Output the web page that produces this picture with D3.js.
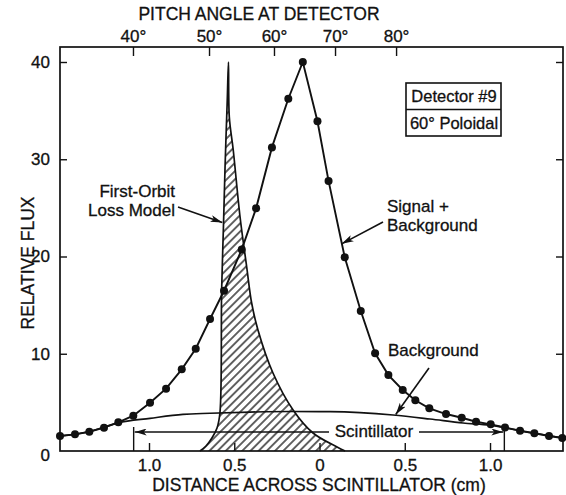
<!DOCTYPE html>
<html><head><meta charset="utf-8">
<script src="https://cdn.jsdelivr.net/npm/d3@7"></script>
<style>
body{margin:0;background:#fff;}
svg text{font-family:"Liberation Sans",Arial,Helvetica,sans-serif;fill:#111;stroke:#111;stroke-width:0.3px;}
</style></head><body>
<svg id="c" width="566" height="495"></svg>
<script>
// ---- data ----
const signalX = [-1.522,-1.434,-1.350,-1.264,-1.180,-1.092,-0.994,-0.900,-0.808,-0.726,-0.642,-0.560,-0.456,-0.372,-0.279,-0.183,-0.098,-0.012,0.053,0.148,0.242,0.326,0.404,0.488,0.562,0.644,0.742,0.834,0.918,1.004,1.088,1.176,1.260,1.346,1.424];
const signalY = [1.54,1.71,1.98,2.40,2.95,3.63,4.97,6.41,8.40,10.52,13.57,16.48,20.73,24.95,31.22,36.22,40.0,33.9,27.77,19.92,14.40,10.04,7.81,6.27,5.21,4.39,3.80,3.42,3.01,2.74,2.42,2.08,1.82,1.54,1.34];
const backgroundX = [-1.522,-1.352,-1.182,-0.994,-0.801,-0.642,-0.408,-0.173,0.062,0.431,0.648,0.842,1.000,1.176,1.428];
const backgroundY = [1.54,1.98,2.90,3.36,3.77,3.88,4.00,4.06,4.04,3.70,3.29,2.88,2.66,2.08,1.34];
const modelX = [-0.701,-0.666,-0.631,-0.601,-0.584,-0.574,-0.564,-0.554,-0.541,-0.534,-0.529,-0.506,-0.466,-0.427,-0.398,-0.361,-0.273,-0.155,-0.038,0.103,0.150];
const modelY = [0,0.51,1.34,2.37,3.91,16.56,22.72,29.2,36.09,40.0,34.34,30.95,24.06,18.92,15.22,12.44,8.02,4.22,1.85,0.41,0];
const distTicks = [-1,-0.5,0,0.5,1];
const fluxTicks = [0,10,20,30,40];
const pitchTickPos = [-1.094,-0.648,-0.267,0.091,0.449];
const pitchLabels = ["40°","50°","60°","70°","80°"];
const scintEdges = [-1.090,1.084];
const xDomain = [-1.522,1.428];
const yDomain = [0,40];

// ---- layout ----
const L=60,R=563,T=47,B=451;
const svg=d3.select("#c");
const x=d3.scaleLinear().domain(xDomain).range([L,R]);
const y=d3.scaleLinear().domain(yDomain).range([B,62]);
const ink="#111";

const defs=svg.append("defs");
defs.append("pattern").attr("id","hatch").attr("patternUnits","userSpaceOnUse")
  .attr("width",5.8).attr("height",6).attr("patternTransform","rotate(45)")
  .append("line").attr("x1",2.9).attr("y1",-1).attr("x2",2.9).attr("y2",7)
  .attr("stroke",ink).attr("stroke-width",1.3);
defs.append("marker").attr("id","arr").attr("viewBox","0 0 12 7").attr("refX",12).attr("refY",3.5)
  .attr("markerWidth",12).attr("markerHeight",7).attr("markerUnits","userSpaceOnUse").attr("orient","auto")
  .append("path").attr("d","M0,0 L12,3.5 L0,7 L3,3.5 Z").attr("fill",ink);

// model (hatched)
const modelPts=modelX.map((d,i)=>[d,modelY[i]]);
const mline=d3.line().x(d=>x(d[0])).y(d=>y(d[1])).curve(d3.curveCatmullRom.alpha(0.5));
svg.append("path").attr("d",mline(modelPts)+"Z").attr("fill","url(#hatch)").attr("stroke","none");
svg.append("path").attr("d",mline(modelPts)).attr("fill","none").attr("stroke",ink).attr("stroke-width",1.7);

// background
const bgPts=backgroundX.map((d,i)=>[d,backgroundY[i]]);
svg.append("path").attr("d",d3.line().x(d=>x(d[0])).y(d=>y(d[1])).curve(d3.curveMonotoneX)(bgPts))
  .attr("fill","none").attr("stroke",ink).attr("stroke-width",1.7);

// signal
const sigPts=signalX.map((d,i)=>[d,signalY[i]]);
svg.append("path").attr("d",d3.line().x(d=>x(d[0])).y(d=>y(d[1]))(sigPts))
  .attr("fill","none").attr("stroke",ink).attr("stroke-width",1.9);
svg.append("g").selectAll("circle").data(sigPts).join("circle")
  .attr("cx",d=>x(d[0])).attr("cy",d=>y(d[1])).attr("r",4).attr("fill",ink);

// frame
svg.append("rect").attr("x",L).attr("y",T).attr("width",R-L).attr("height",B-T)
  .attr("fill","none").attr("stroke",ink).attr("stroke-width",1.7);

// axes
const fs="17px";
const gB=svg.append("g").attr("transform",`translate(0,${B})`)
  .call(d3.axisBottom(x).tickValues(distTicks).tickSize(-8).tickPadding(8).tickFormat(d=>d===0?"0":Math.abs(d).toFixed(1)));
const gT=svg.append("g").attr("transform",`translate(0,${T})`)
  .call(d3.axisTop(x).tickValues(pitchTickPos).tickSize(-9).tickPadding(5).tickFormat((d,i)=>pitchLabels[i]));
const gL=svg.append("g").attr("transform",`translate(${L},0)`)
  .call(d3.axisLeft(y).tickValues(fluxTicks).tickSize(-7).tickPadding(10));
const gR=svg.append("g").attr("transform",`translate(${R},0)`)
  .call(d3.axisRight(y).tickValues(fluxTicks.slice(1)).tickSize(-7).tickFormat(""));
[gB,gT,gL,gR].forEach(g=>{
  g.select(".domain").remove();
  g.selectAll(".tick line").attr("stroke",ink).attr("stroke-width",1.4);
  g.selectAll("text").attr("font-size",fs).attr("fill",ink).style("font-family","'Liberation Sans',Arial,sans-serif");
});
gL.selectAll(".tick").filter(d=>d===0).select("line").remove();
gL.selectAll(".tick").filter(d=>d===0).select("text").attr("dy","0.55em");

// axis titles
const tfs="17.5px";
svg.append("text").attr("x",259).attr("y",20).attr("text-anchor","middle").attr("font-size",tfs).text("PITCH ANGLE AT DETECTOR");
svg.append("text").attr("x",319).attr("y",491).attr("text-anchor","middle").attr("font-size",tfs).text("DISTANCE ACROSS SCINTILLATOR (cm)");
svg.append("text").attr("transform","translate(34,263) rotate(-90)").attr("text-anchor","middle").attr("font-size",tfs).text("RELATIVE FLUX");

// detector box
svg.append("rect").attr("x",406).attr("y",83).attr("width",95).attr("height",53).attr("fill","#fff").attr("stroke",ink).attr("stroke-width",1.6);
svg.append("line").attr("x1",406).attr("x2",501).attr("y1",109.5).attr("y2",109.5).attr("stroke",ink).attr("stroke-width",1.6);
svg.append("text").attr("x",454).attr("y",102).attr("text-anchor","middle").attr("font-size","16.5px").text("Detector #9");
svg.append("text").attr("x",454).attr("y",129).attr("text-anchor","middle").attr("font-size","16.5px").text("60° Poloidal");

// annotations
function arrow(x1,y1,x2,y2){svg.append("line").attr("x1",x1).attr("y1",y1).attr("x2",x2).attr("y2",y2)
  .attr("stroke",ink).attr("stroke-width",1.6).attr("marker-end","url(#arr)");}
svg.append("text").attr("x",175).attr("y",197).attr("text-anchor","end").attr("font-size",fs).text("First-Orbit");
svg.append("text").attr("x",175).attr("y",216).attr("text-anchor","end").attr("font-size",fs).text("Loss Model");
arrow(178,207,x(-0.57),y(23.5));
svg.append("text").attr("x",387).attr("y",212).attr("font-size",fs).text("Signal +");
svg.append("text").attr("x",387).attr("y",231).attr("font-size",fs).text("Background");
arrow(383,222,x(0.13),y(21.3));
svg.append("text").attr("x",388).attr("y",356).attr("font-size",fs).text("Background");
arrow(429,368,x(0.447),y(3.75));

// scintillator
const sy=432;
scintEdges.forEach(e=>svg.append("line").attr("x1",x(e)).attr("x2",x(e)).attr("y1",427).attr("y2",B).attr("stroke",ink).attr("stroke-width",1.4));
arrow(329,sy,x(scintEdges[0])+1,sy);
arrow(419,sy,x(scintEdges[1])-1,sy);
svg.append("text").attr("x",374).attr("y",437).attr("text-anchor","middle").attr("font-size",fs).text("Scintillator");
</script>
</body></html>
